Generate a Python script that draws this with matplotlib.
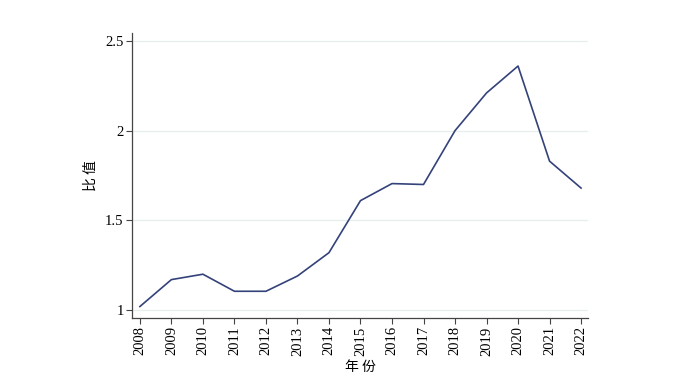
import matplotlib
matplotlib.use('Agg')
import matplotlib.pyplot as plt

# Datos
anios = [2008, 2009, 2010, 2011, 2012, 2013, 2014, 2015,
         2016, 2017, 2018, 2019, 2020, 2021, 2022]
valores = [1.02, 1.17, 1.20, 1.105, 1.105, 1.19, 1.32, 1.61,
           1.705, 1.70, 2.00, 2.21, 2.36, 1.83, 1.68]
ticks_y = [1, 1.5, 2, 2.5]
etiquetas_y = ['1', '1.5', '2', '2.5']

fuente_num = 'Liberation Serif'
fuente_cjk = ['Noto Sans CJK SC', 'DejaVu Sans']

fig = plt.figure(figsize=(7, 3.88), dpi=100)
ax = fig.add_axes([0.1886, 0.1804, 0.6514, 0.7345])

ax.plot(anios, valores, color='#34427a', linewidth=1.2)

ax.set_xlim(2007.75, 2022.22)
ax.set_ylim(0.956, 2.544)
ax.set_xticks(anios)
ax.set_xticklabels([str(a) for a in anios], rotation=90,
                   fontfamily=fuente_num, fontsize=10.5)
ax.set_yticks(ticks_y)
ax.set_yticklabels(etiquetas_y, fontfamily=fuente_num, fontsize=10.5)

# Lineas de cuadricula muy claras
ax.grid(axis='y', color='#e6eeee', linewidth=0.9)
ax.set_axisbelow(True)

for lado in ['top', 'right']:
    ax.spines[lado].set_visible(False)
for lado in ['left', 'bottom']:
    ax.spines[lado].set_color('#444444')
    ax.spines[lado].set_linewidth(0.9)
ax.tick_params(direction='out', length=4, width=0.8, color='#444444', pad=2)

ax.set_xlabel('年 份', family=fuente_cjk, fontsize=10, labelpad=3)
ax.set_ylabel('比 值', family=fuente_cjk, fontsize=10, labelpad=5)

fig.savefig('out.png', dpi=100, facecolor='white')
